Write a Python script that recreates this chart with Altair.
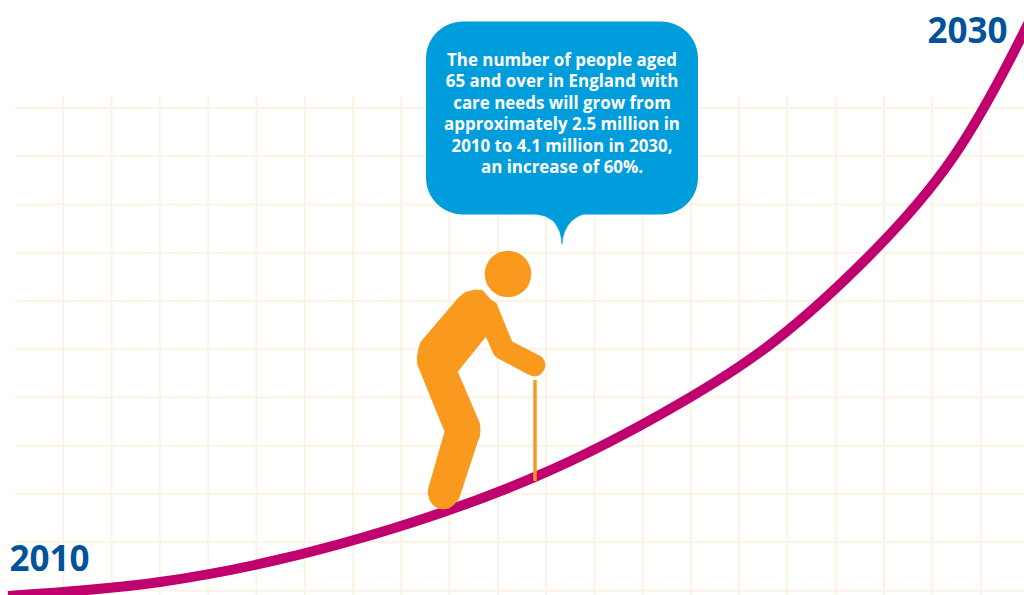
import altair as alt
import pandas as pd

W, H = 1024, 595

# pale squared-paper background
grid_x = [63.3, 111.6, 159.9, 208.1, 256.4, 304.7, 353, 401.2, 449.5, 497.8, 546.1, 594.3,
          642.6, 690.9, 739.2, 787.4, 835.7, 884, 932.3, 980.6]
grid_y = [108, 156.2, 204.5, 252.7, 301, 349.2, 397.5, 445.7, 494, 542.2, 590.5]
grid_top, grid_left = 96, 15

# rising care-needs curve
curve_x = [8, 160, 340, 535.7, 680, 776, 872.3, 954, 1009.7, 1030]
curve_y = [596, 582, 544, 476.7, 403.3, 340, 252.7, 156, 60, 20]

# figure walking uphill
body_x = [482.7, 475, 465, 458.3, 425, 421, 418.5, 417.3, 418, 420, 445, 428.8, 428.3, 430, 433.3,
          438, 443.3, 449, 453.3, 457, 459.3, 477.3, 479.5, 480, 479.5, 477.3, 457.3, 486, 494, 496.7,
          528.3, 532, 535, 539, 541.7, 544, 545, 544, 541.7, 511.7, 496, 490.7]
body_y = [290.7, 290, 292.7, 298.3, 337.3, 342, 350, 358.3, 365, 370, 431.7, 488, 493, 500, 505,
          508, 509, 508, 505, 501, 496.7, 441.7, 436, 430, 424, 418.3, 371.7, 336, 354, 357.3,
          374, 375.5, 376, 375, 372.7, 369, 365, 361, 357.3, 341.7, 303.3, 300]
head_x, head_y, head_size = [508], [274], 2160
cane_x, cane_y = [535], [380]
cane_y2 = [481]

# speech bubble
bubble_box = {"x": 426, "x2": 698, "y": 21.5, "y2": 214.5}
tail_x = [536.7, 546, 553.3, 557, 559.8, 561.2, 562, 562.8, 564.5, 567.5, 571.7, 577, 583.3, 583.3, 536.7]
tail_y = [214, 216.5, 221, 226, 232, 238, 244.3, 238, 232, 226, 221, 217, 214, 205, 205]
bubble_lines = [
    "The number of people aged",
    "65 and over in England with",
    "care needs will grow from",
    "approximately 2.5 million in",
    "2010 to 4.1 million in 2030,",
    "an increase of 60%.",
]
bubble_line_y = [60.5, 82, 103.5, 125, 146.5, 168]
bubble_text_x = 562

year_labels = ["2010", "2030"]
year_x = [49.5, 967.5]
year_y = [560, 32]

PALE, MAGENTA, ORANGE, BLUE, NAVY = "#fef2e5", "#c0006f", "#f9991d", "#009ddc", "#00539b"
FONT = "Open Sans"

sx = alt.Scale(domain=[0, W], range=[0, W], nice=False, zero=False)
sy = alt.Scale(domain=[0, H], range=[0, H], nice=False, zero=False)
X = lambda f: alt.X(f, type="quantitative", scale=sx, axis=None)
Y = lambda f: alt.Y(f, type="quantitative", scale=sy, axis=None)

def table(**cols):
    frame = pd.DataFrame(cols)
    frame["i"] = range(len(frame))
    return alt.Chart(frame)

vgrid = table(x=grid_x, y=[grid_top] * len(grid_x), y2=[H] * len(grid_x)).mark_rule(
    color=PALE, strokeWidth=2).encode(x=X("x"), y=Y("y"), y2="y2")
hgrid = table(y=grid_y, x=[grid_left] * len(grid_y), x2=[W] * len(grid_y)).mark_rule(
    color=PALE, strokeWidth=2).encode(y=Y("y"), x=X("x"), x2="x2")

curve = table(x=curve_x, y=curve_y).mark_line(
    color=MAGENTA, strokeWidth=10, interpolate="natural", clip=True
).encode(x=X("x"), y=Y("y"), order="i:Q")

cane = table(x=cane_x, y=cane_y, y2=cane_y2).mark_rule(
    color=ORANGE, strokeWidth=3.5).encode(x=X("x"), y=Y("y"), y2="y2")

body = table(x=body_x, y=body_y).mark_line(
    color=ORANGE, fill=ORANGE, stroke=ORANGE, strokeWidth=1, strokeJoin="round",
    interpolate="linear-closed"
).encode(x=X("x"), y=Y("y"), order="i:Q")

head = table(x=head_x, y=head_y).mark_circle(
    color=ORANGE, opacity=1, size=head_size).encode(x=X("x"), y=Y("y"))

bubble = table(**{k: [v] for k, v in bubble_box.items()}).mark_rect(
    color=BLUE, cornerRadius=37).encode(x=X("x"), x2="x2", y=Y("y"), y2="y2")

tail = table(x=tail_x, y=tail_y).mark_line(
    color=BLUE, fill=BLUE, stroke=BLUE, strokeWidth=0.5, interpolate="linear-closed"
).encode(x=X("x"), y=Y("y"), order="i:Q")

bubble_text = table(t=bubble_lines, y=bubble_line_y, x=[bubble_text_x] * len(bubble_lines)).mark_text(
    color="white", font=FONT, fontWeight="bold", fontSize=16.9,
    align="center", baseline="middle"
).encode(x=X("x"), y=Y("y"), text="t:N")

years = table(t=year_labels, x=year_x, y=year_y).mark_text(
    color=NAVY, font=FONT, fontWeight="bold", fontSize=35, align="center", baseline="middle"
).encode(x=X("x"), y=Y("y"), text="t:N")

chart = alt.layer(
    vgrid, hgrid, curve, cane, body, head, tail, bubble, bubble_text, years
).properties(
    width=W, height=H, padding=0, autosize=alt.AutoSizeParams(type="none"), background="white"
).configure_view(stroke=None)

chart.save("out.html", embed_options={"renderer": "svg", "actions": False})
